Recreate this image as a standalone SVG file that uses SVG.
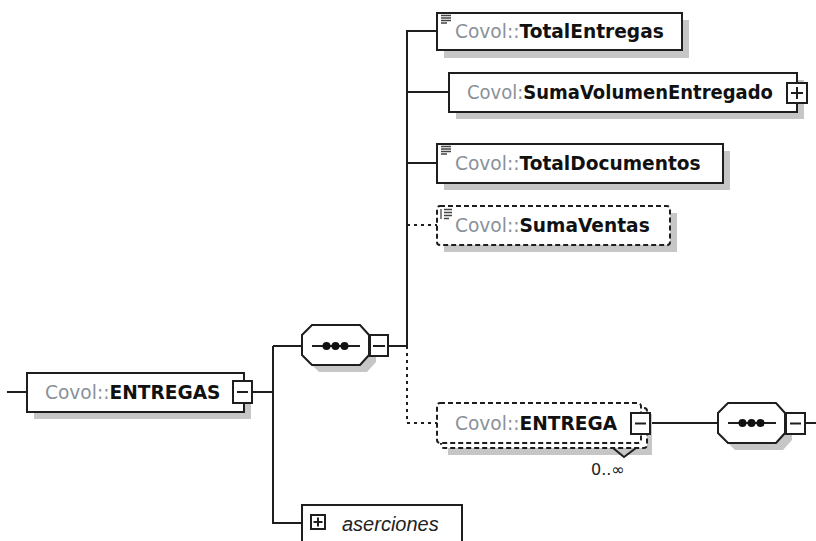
<svg xmlns="http://www.w3.org/2000/svg" width="816" height="541" viewBox="0 0 816 541">
<style>
.bg{fill:#ffffff}
.sh{fill:#c6c6c6;stroke:none}
.box{fill:#ffffff;stroke:#1e1e1e;stroke-width:2}
.dbox{fill:#ffffff;stroke:#1e1e1e;stroke-width:2;stroke-dasharray:5 3}
.ln{fill:none;stroke:#1e1e1e;stroke-width:2}
.dl{fill:none;stroke:#1e1e1e;stroke-width:2;stroke-dasharray:3 4}
.ic{fill:none;stroke:#444;stroke-width:1.3}
.t{font-family:"DejaVu Sans",sans-serif;font-size:18.6px}
.ns{fill:#8a919a}
.b{font-weight:bold;fill:#111}
.it{font-family:"Liberation Sans",Arial,sans-serif;font-size:20px;font-style:italic;fill:#222}
.m{font-family:"DejaVu Sans",sans-serif;font-size:16px;fill:#222}
</style>
<rect class="bg" x="0" y="0" width="816" height="541"/>

<g id="connectors">
  <path class="ln" d="M7 392 H27"/>
  <path class="ln" d="M252 392 H273"/>
  <path class="ln" d="M273 346 V523 H302"/>
  <path class="ln" d="M273 346 H302"/>
  <path class="ln" d="M388 346 H407"/>
  <path class="ln" d="M407 346 V31 H437"/>
  <path class="ln" d="M407 92 H449"/>
  <path class="ln" d="M407 163 H437"/>
  <path class="dl" d="M407 225 H437"/>
  <path class="dl" d="M407 346 V423 H437"/>
  <path class="ln" d="M650 423 H718"/>
  <path class="ln" d="M805 423 H816"/>
</g>

<g id="node-ENTREGAS">
  <rect class="sh" x="34" y="380" width="217" height="39"/>
  <rect class="box" x="27" y="373" width="217" height="39"/>
  <text class="t" x="45" y="399"><tspan class="ns">Covol::</tspan><tspan class="b">ENTREGAS</tspan></text>
  <rect class="box" x="233" y="381" width="19" height="22"/>
  <path class="ln" d="M237 392 H248"/>
</g>

<g id="node-seq1">
  <path class="sh" d="M319 332 H367 L376 342 V362 L367 372 H319 L309 362 V342 Z"/>
  <path class="box" d="M312 325 H360 L369 335 V355 L360 365 H312 L302 355 V335 Z"/>
  <path class="ln" d="M312 346 H360"/>
  <circle cx="326.5" cy="346" r="4" fill="#111"/>
  <circle cx="335.5" cy="346" r="4" fill="#111"/>
  <circle cx="344.5" cy="346" r="4" fill="#111"/>
  <rect class="box" x="370" y="335" width="18" height="21"/>
  <path class="ln" d="M373 346 H385"/>
</g>

<g id="node-TotalEntregas">
  <rect class="sh" x="444" y="20" width="245" height="38"/>
  <rect class="box" x="437" y="13" width="245" height="37"/>
  <path class="ic" d="M441 15.5 H451 M441 18 H451 M441 20.5 H451 M441 23 H447"/>
  <text class="t" x="455" y="38"><tspan class="ns">Covol::</tspan><tspan class="b">TotalEntregas</tspan></text>
</g>

<g id="node-SumaVolumenEntregado">
  <rect class="sh" x="456" y="80" width="348" height="39"/>
  <rect class="box" x="449" y="73" width="348" height="39"/>
  <text class="t" x="467" y="99" textLength="306" lengthAdjust="spacingAndGlyphs"><tspan class="ns">Covol:</tspan><tspan class="b">SumaVolumenEntregado</tspan></text>
  <rect class="box" x="787" y="83" width="20" height="20"/>
  <path class="ln" d="M791 93 H803 M797 87 V99"/>
</g>

<g id="node-TotalDocumentos">
  <rect class="sh" x="444" y="151" width="286" height="39"/>
  <rect class="box" x="437" y="144" width="286" height="39"/>
  <path class="ic" d="M441 146.5 H451 M441 149 H451 M441 151.5 H451 M441 154 H447"/>
  <text class="t" x="455" y="170"><tspan class="ns">Covol::</tspan><tspan class="b">TotalDocumentos</tspan></text>
</g>

<g id="node-SumaVentas">
  <rect class="sh" x="444" y="213" width="233" height="39"/>
  <rect class="dbox" x="437" y="206" width="233" height="39" rx="3"/>
  <path class="ic" d="M441 209 V219 M444 209.5 H452 M444 212.5 H452 M444 215.5 H452 M444 218.5 H449"/>
  <text class="t" x="455" y="232"><tspan class="ns">Covol::</tspan><tspan class="b">SumaVentas</tspan></text>
</g>

<g id="node-ENTREGA">
  <rect class="sh" x="448" y="414" width="204" height="41"/>
  <rect class="dbox" x="441" y="408" width="206" height="40" rx="3"/>
  <rect class="dbox" x="437" y="403" width="204" height="40" rx="3"/>
  <text class="t" x="455" y="430"><tspan class="ns">Covol::</tspan><tspan class="b">ENTREGA</tspan></text>
  <rect class="box" x="631" y="413" width="19" height="21"/>
  <path class="ln" d="M635 423.5 H646"/>
  <path class="ln" d="M613 448 L624 457 L636 448" stroke-width="1.6"/>
  <text class="m" x="591" y="475">0..∞</text>
</g>

<g id="node-seq2">
  <path class="sh" d="M735 410 H783 L792 420 V440 L783 450 H735 L725 440 V420 Z"/>
  <path class="box" d="M728 403 H776 L785 413 V433 L776 443 H728 L718 433 V413 Z"/>
  <path class="ln" d="M728 423 H776"/>
  <circle cx="742.5" cy="423" r="4" fill="#111"/>
  <circle cx="751.5" cy="423" r="4" fill="#111"/>
  <circle cx="760.5" cy="423" r="4" fill="#111"/>
  <rect class="box" x="786" y="413" width="19" height="21"/>
  <path class="ln" d="M790 423.5 H801"/>
</g>

<g id="node-aserciones">
  <rect class="box" x="302" y="505" width="160" height="60"/>
  <rect class="box" x="311" y="515" width="14" height="14" stroke-width="1.6"/>
  <path class="ln" d="M313.5 522 H322.5 M318 517.5 V526.5" stroke-width="1.6"/>
  <text class="it" x="342" y="531">aserciones</text>
</g>
</svg>
